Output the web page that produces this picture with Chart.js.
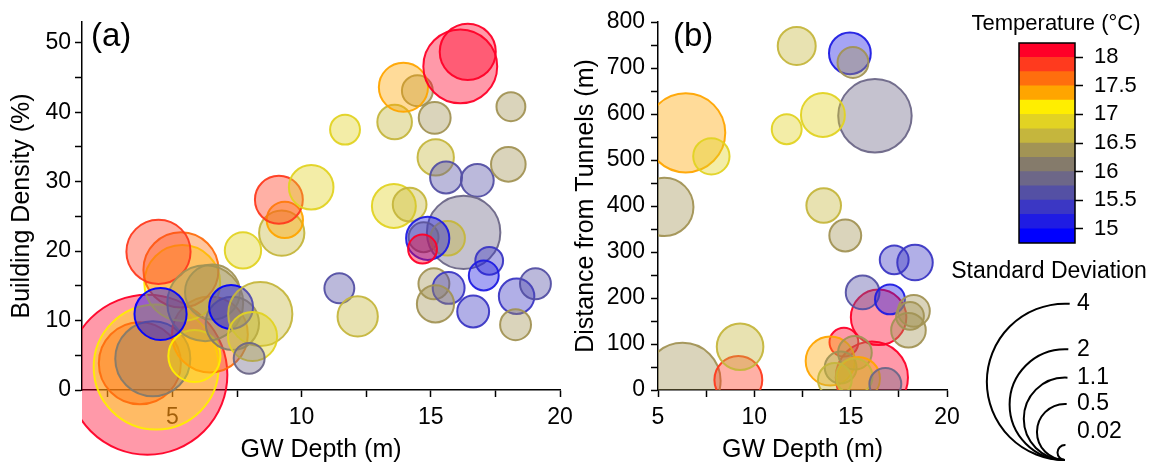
<!DOCTYPE html>
<html><head><meta charset="utf-8">
<script src="https://cdn.jsdelivr.net/npm/chart.js@4.4.1/dist/chart.umd.min.js"></script>
<style>
html,body{margin:0;padding:0;background:#fff;width:1151px;height:465px;overflow:hidden}
canvas{position:absolute;top:0}
#ca{left:0}#cb{left:560px}#cl{left:940px}
</style></head><body>
<canvas id="ca" width="585" height="465"></canvas>
<canvas id="cb" width="415" height="465"></canvas>
<canvas id="cl" width="211" height="465"></canvas>
<script>
// ---------- DATA ----------
// Panel (a): GW depth (m), building density (%), temperature (°C), standard deviation
const aDepth   = [4.03,4.37,3.74,4.24,6.45,5.85,5.38,5.33,4.46,6.27,6.55,4.54,7.32,7.27,8.4,8.1,7.97,7.73,9.23,9.35,9.12,10.37,11.46,12.17,11.68,13.57,14.18,13.6,14.48,13.94,15.15,16.14,16.43,18.1,15.19,15.59,16.8,18.0,16.27,14.72,15.65,14.88,14.68,17.26,17.05,15.12,15.69,15.18,16.64,18.32,19.05,18.28];
const aDensity = [2.2,3.3,3.85,4.5,8.0,4.9,15.4,17.3,19.9,12.5,14.1,10.95,9.6,11.95,10.95,7.7,4.56,20.1,22.6,24.5,27.4,29.2,14.65,10.6,37.5,26.5,26.7,38.6,43.1,43.6,39.2,46.6,48.7,40.8,33.5,30.6,30.2,32.5,22.7,22.0,21.85,21.85,20.3,18.6,16.5,15.3,14.7,12.4,11.3,13.5,15.3,9.4];
const aTemp    = [18.1,17.1,17.6,16.1,17.5,17.1,17.1,17.6,17.9,16.3,16.3,14.9,16.1,14.9,16.6,16.9,15.8,16.9,16.6,17.4,17.9,16.9,15.6,16.6,16.9,16.9,16.6,16.6,16.3,17.4,16.4,18.1,18.1,16.4,16.6,15.6,15.6,16.4,15.9,16.1,16.6,15.1,18.1,15.4,15.1,16.4,15.4,16.4,15.4,15.4,15.6,16.4];
const aSD      = [4.19,2.55,1.09,0.91,0.93,0.43,0.93,0.91,0.66,0.93,0.48,0.43,0.45,0.30,0.66,0.38,0.14,0.20,0.32,0.20,0.36,0.31,0.13,0.25,0.13,0.30,0.17,0.18,0.14,0.38,0.15,0.88,0.50,0.12,0.20,0.15,0.16,0.18,0.87,0.13,0.18,0.29,0.12,0.11,0.13,0.14,0.15,0.21,0.15,0.19,0.14,0.14];

// Panel (b): GW depth (m), distance from tunnels (m), temperature (°C), standard deviation
const bDepth    = [6.28,6.44,16.26,16.1,5.33,16.45,12.2,14.96,15.12,7.77,11.68,13.56,13.6,14.72,17.26,18.34,15.62,17.04,18.28,18.08,18.0,14.65,13.94,15.22,14.48,15.4,14.18,15.19,16.8,9.17,9.26];
const bDistance = [20,559,596,27,398,158,748,732,712,508,567,598,401,336,283,277,212,197,172,161,130,104,63,81,49,25,22,29,13,22,94];
const bTemp     = [16.4,17.4,15.9,18.1,16.4,18.1,16.6,15.1,16.4,16.9,16.9,16.9,16.6,16.4,15.3,15.3,15.6,15.1,16.4,16.4,16.4,18.1,17.4,16.3,16.4,17.4,16.7,16.7,15.9,17.9,16.6];
const bSD       = [0.93,1.01,0.87,0.84,0.54,0.49,0.22,0.27,0.14,0.20,0.13,0.30,0.18,0.15,0.12,0.19,0.17,0.13,0.15,0.11,0.18,0.12,0.38,0.17,0.15,0.29,0.17,0.20,0.15,0.36,0.34];

// Tick labels / legend values
const aXTicks = [2.5,5,7.5,10,12.5,15,17.5,20];
const aYTicks = [0,5,10,15,20,25,30,35,40,45,50];
const bXTicks = [5,7.5,10,12.5,15,17.5,20];
const bYTicks = [0,50,100,150,200,250,300,350,400,450,500,550,600,650,700,750,800];
const cbTicks = [15,15.5,16,16.5,17,17.5,18];
const sdLegend = [4,2,1.1,0.5,0.02];

// ---------- STYLE ----------
const bandColors = ['#0000FF','#1F1CE3','#3B37C4','#5450A4','#6D6788','#857B6B','#A29455','#C5B63D','#E2D323','#FFEE00','#FFA500','#FF6E0E','#FF3A1E','#FF0028'];
const cbMin = 14.75, cbStep = 0.25;
const FONT = "'Liberation Sans', Arial, Helvetica, sans-serif";
Chart.defaults.font.family = FONT;
Chart.defaults.color = '#000';

function tempColor(t, a){
  let i = Math.floor((t - cbMin)/cbStep);
  i = Math.max(0, Math.min(bandColors.length-1, i));
  const h = bandColors[i];
  const r = parseInt(h.substr(1,2),16), g = parseInt(h.substr(3,2),16), b = parseInt(h.substr(5,2),16);
  return `rgba(${r},${g},${b},${a})`;
}
function sdRadius(sd){ return 39*Math.sqrt(sd + 0.017); }
function bubbleData(xs, ys, sds){ return xs.map((x,i)=>({x:x, y:ys[i], r:sdRadius(sds[i])})); }

function panelLabel(text, dx){
  return { id:'pl', afterDraw(chart){
    const {ctx, chartArea} = chart;
    ctx.save(); ctx.font = `33px ${FONT}`; ctx.fillStyle = '#000';
    ctx.textBaseline = 'middle'; ctx.textAlign = 'left';
    ctx.fillText(text, chartArea.left + dx, chartArea.top + 15);
    ctx.restore();
  }};
}

function axis(opts){
  return {
    type:'linear', min:opts.min, max:opts.max, z:1,
    afterBuildTicks: s => { s.ticks = opts.ticks.map(v=>({value:v})); },
    ticks:{ font:{size:23}, padding:opts.pad, maxRotation:0, autoSkip:false,
      callback: v => (Math.abs(v % opts.major) < 1e-9 ? String(v) : '') },
    grid:{ drawOnChartArea:false, drawTicks:true, tickLength:7, tickColor:'#000', tickWidth:1.5 },
    border:{ display:true, color:'#000', width:1.5 },
    title:{ display:true, text:opts.title, font:{size:25}, padding:opts.tpad },
    afterFit: opts.fit
  };
}

function bubbleChart(id, xs, ys, temps, sds, cfg){
  return new Chart(document.getElementById(id), {
    type:'bubble',
    data:{ datasets:[{
      data: bubbleData(xs, ys, sds),
      backgroundColor: c => tempColor(temps[c.dataIndex], 0.4),
      borderColor: c => tempColor(temps[c.dataIndex], 0.95),
      borderWidth: 2,
      hoverBorderWidth: 2,
      clip: cfg.clip
    }]},
    options:{
      responsive:false, animation:false, devicePixelRatio:1,
      events:[],
      layout:{ padding:cfg.padding, autoPadding:false },
      plugins:{ legend:{display:false}, tooltip:{enabled:false} },
      scales:{ x: axis(cfg.x), y: axis(cfg.y) }
    },
    plugins:[ panelLabel(cfg.label, cfg.labelDx) ]
  });
}

bubbleChart('ca', aDepth, aDensity, aTemp, aSD, {
  clip:{left:0, top:false, right:false, bottom:false},
  padding:{left:0, top:22, right:25, bottom:0},
  label:'(a)', labelDx:9,
  x:{min:1.5, max:20, ticks:aXTicks, major:5, pad:7, title:'GW Depth (m)', tpad:{top:0,bottom:0}, fit:s=>{s.height=75;}},
  y:{min:0, max:53, ticks:aYTicks, major:10, pad:4, title:'Building Density (%)', tpad:{top:7,bottom:0}, fit:s=>{s.width=82;}}
});

bubbleChart('cb', bDepth, bDistance, bTemp, bSD, {
  clip:{left:0, top:false, right:false, bottom:0},
  padding:{left:0, top:22, right:28, bottom:0},
  label:'(b)', labelDx:15,
  x:{min:5, max:20, ticks:bXTicks, major:5, pad:7, title:'GW Depth (m)', tpad:{top:0,bottom:0}, fit:s=>{s.height=75;}},
  y:{min:0, max:800, ticks:bYTicks, major:100, pad:6, title:'Distance from Tunnels (m)', tpad:{top:11,bottom:0}, fit:s=>{s.width=98;}}
});

// ---------- LEGENDS ----------
const legendPlugin = { id:'leg', afterDraw(chart){
  const {ctx, chartArea:ca} = chart;
  ctx.save();
  ctx.strokeStyle = '#000'; ctx.lineWidth = 1.5;
  ctx.strokeRect(ca.left, ca.top, ca.right-ca.left, ca.bottom-ca.top);
  ctx.fillStyle = '#000'; ctx.textAlign = 'center'; ctx.textBaseline = 'middle';
  ctx.font = `22px ${FONT}`;
  ctx.fillText('Temperature (°C)', 116, 24);
  ctx.font = `23px ${FONT}`;
  ctx.fillText('Standard Deviation', 109, 272);
  const cx = 125, by = 460;
  ctx.lineWidth = 2; ctx.textAlign = 'left'; ctx.font = `23px ${FONT}`;
  sdLegend.forEach(sd => {
    const r = sdRadius(sd);
    ctx.beginPath();
    ctx.arc(cx, by - r, r, Math.PI/2, Math.PI*1.5 + 0.06);
    ctx.stroke();
    const ly = Math.min(by - 2*r, by - 28);
    ctx.fillText(String(sd), cx + 12, ly);
  });
  ctx.restore();
}};

new Chart(document.getElementById('cl'), {
  type:'bar',
  data:{ labels:[''], datasets: bandColors.map((c,i)=>({
    data:[[cbMin + i*cbStep, cbMin + (i+1)*cbStep]],
    backgroundColor:c, borderWidth:0, grouped:false, barPercentage:1, categoryPercentage:1
  }))},
  options:{
    responsive:false, animation:false, devicePixelRatio:1, events:[],
    layout:{ padding:{left:79, top:43, right:0, bottom:222}, autoPadding:false },
    plugins:{ legend:{display:false}, tooltip:{enabled:false} },
    scales:{
      x:{ display:false },
      y:{ position:'right', min:cbMin, max:cbMin + bandColors.length*cbStep,
        afterBuildTicks: s => { s.ticks = cbTicks.map(v=>({value:v})); },
        ticks:{ font:{size:22}, padding:11, callback: v => String(v) },
        grid:{ drawOnChartArea:false, tickLength:8, tickColor:'#000', tickWidth:1.5 },
        border:{ display:false },
        afterFit: s => { s.width = 76; } }
    }
  },
  plugins:[legendPlugin]
});
</script>
</body></html>
